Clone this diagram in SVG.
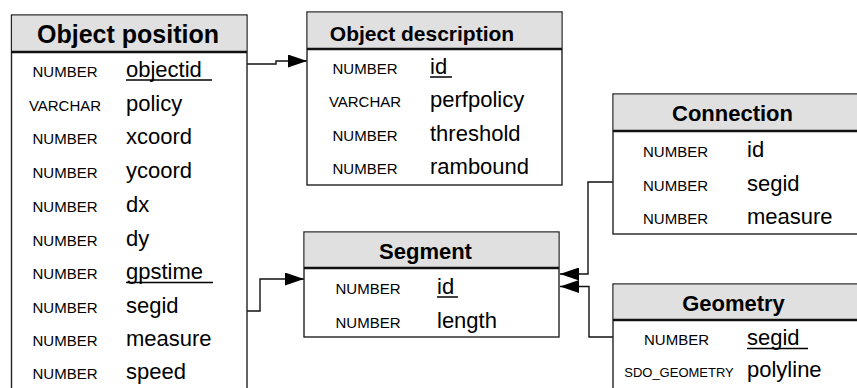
<svg xmlns="http://www.w3.org/2000/svg" width="857" height="388" viewBox="0 0 857 388">
<defs>
<style>
.box{fill:#ffffff;stroke:#222;stroke-width:1.4}
.hdr{fill:#e0e0e0;stroke:none}
.sep{stroke:#111;stroke-width:2.6}
.title{font-family:"Liberation Sans",Arial,sans-serif;font-weight:bold;font-size:22px;fill:#000;text-anchor:middle}
.type{font-family:"Liberation Sans",Arial,sans-serif;font-size:15px;fill:#000;text-anchor:middle}
.field{font-family:"Liberation Sans",Arial,sans-serif;font-size:22px;fill:#000}
.ul{stroke:#000;stroke-width:1.5}
.conn{fill:none;stroke:#111;stroke-width:1.4}
</style>
<marker id="arr" viewBox="0 0 19 13" refX="19" refY="6.5" markerWidth="19" markerHeight="13" markerUnits="userSpaceOnUse" orient="auto">
<path d="M0,0 L19,6.5 L0,13 z" fill="#000"/>
</marker>
</defs>
<rect width="857" height="388" fill="#ffffff"/>

<g id="connectors">
<path class="conn" d="M247,64 H276 V61 H307" marker-end="url(#arr)"/>
<path class="conn" d="M247,311 H260 V279 H304" marker-end="url(#arr)"/>
<path class="conn" d="M613,182 H588 V274 H560" marker-end="url(#arr)"/>
<path class="conn" d="M613,337 H589 V286.5 H560" marker-end="url(#arr)"/>
</g>

<g id="object-position">
<rect class="box" x="11.5" y="15" width="235.5" height="390"/>
<rect class="hdr" x="12.2" y="15.7" width="234.1" height="36"/>
<line class="sep" x1="11.5" y1="52" x2="247" y2="52"/>
<text class="title" x="128" y="43" style="font-size:25px">Object position</text>
<text class="type" x="65" y="77">NUMBER</text><text class="field" x="126" y="77">objectid</text>
<line class="ul" x1="126" y1="80" x2="212" y2="80"/>
<text class="type" x="65" y="110.5">VARCHAR</text><text class="field" x="126" y="110.5">policy</text>
<text class="type" x="65" y="144">NUMBER</text><text class="field" x="126" y="144">xcoord</text>
<text class="type" x="65" y="177.5">NUMBER</text><text class="field" x="126" y="177.5">ycoord</text>
<text class="type" x="65" y="212">NUMBER</text><text class="field" x="126" y="212">dx</text>
<text class="type" x="65" y="245.5">NUMBER</text><text class="field" x="126" y="245.5">dy</text>
<text class="type" x="65" y="279">NUMBER</text><text class="field" x="126" y="279">gpstime</text>
<line class="ul" x1="126" y1="282.5" x2="213" y2="282.5"/>
<text class="type" x="65" y="312.5">NUMBER</text><text class="field" x="126" y="312.5">segid</text>
<text class="type" x="65" y="346">NUMBER</text><text class="field" x="126" y="346">measure</text>
<text class="type" x="65" y="379">NUMBER</text><text class="field" x="126" y="379">speed</text>
</g>

<g id="object-description">
<rect class="box" x="307" y="12" width="255" height="173"/>
<rect class="hdr" x="307.7" y="12.7" width="253.6" height="36"/>
<line class="sep" x1="307" y1="49" x2="562" y2="49"/>
<text class="title" x="422" y="40.5" style="font-size:21px">Object description</text>
<text class="type" x="365" y="74">NUMBER</text><text class="field" x="430" y="74">id</text>
<line class="ul" x1="430" y1="77" x2="452" y2="77"/>
<text class="type" x="365" y="107">VARCHAR</text><text class="field" x="430" y="107">perfpolicy</text>
<text class="type" x="365" y="140.5">NUMBER</text><text class="field" x="430" y="140.5">threshold</text>
<text class="type" x="365" y="174">NUMBER</text><text class="field" x="430" y="174">rambound</text>
</g>

<g id="segment">
<rect class="box" x="304" y="232" width="255" height="105"/>
<rect class="hdr" x="304.7" y="232.7" width="253.6" height="35"/>
<line class="sep" x1="304" y1="268" x2="559" y2="268"/>
<text class="title" x="425.5" y="259">Segment</text>
<text class="type" x="368" y="294">NUMBER</text><text class="field" x="437" y="294">id</text>
<line class="ul" x1="437" y1="297" x2="458" y2="297"/>
<text class="type" x="368" y="328">NUMBER</text><text class="field" x="437" y="328">length</text>
</g>

<g id="connection">
<rect class="box" x="613" y="94" width="260" height="140"/>
<rect class="hdr" x="613.7" y="94.7" width="258" height="36"/>
<line class="sep" x1="613" y1="131" x2="873" y2="131"/>
<text class="title" x="732.5" y="121">Connection</text>
<text class="type" x="675.5" y="157">NUMBER</text><text class="field" x="747" y="157">id</text>
<text class="type" x="675.5" y="190.5">NUMBER</text><text class="field" x="747" y="190.5">segid</text>
<text class="type" x="675.5" y="224">NUMBER</text><text class="field" x="747" y="224">measure</text>
</g>

<g id="geometry">
<rect class="box" x="613" y="284" width="260" height="130"/>
<rect class="hdr" x="613.7" y="284.7" width="258" height="35"/>
<line class="sep" x1="613" y1="320" x2="873" y2="320"/>
<text class="title" x="733.5" y="311">Geometry</text>
<text class="type" x="676.5" y="345">NUMBER</text><text class="field" x="747" y="345">segid</text>
<line class="ul" x1="747" y1="348.5" x2="808" y2="348.5"/>
<text class="type" x="679" y="377" style="font-size:13px">SDO_GEOMETRY</text><text class="field" x="747" y="377">polyline</text>
</g>
</svg>
